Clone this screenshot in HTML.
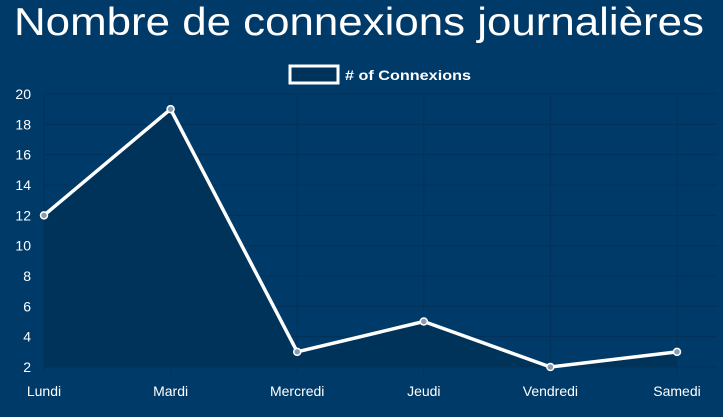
<!DOCTYPE html>
<html><head><meta charset="utf-8"><style>
html,body{margin:0;padding:0;background:#003a68;}
svg{display:block;font-family:"Liberation Sans",sans-serif;}
</style></head><body>
<svg id="chart" width="723" height="417" viewBox="0 0 723 417">
<rect x="0" y="0" width="723" height="417" fill="#003a68"/>
<text x="14" y="35" fill="#fff" font-size="39" textLength="690" lengthAdjust="spacingAndGlyphs">Nombre de connexions journalières</text>
<g>
<rect x="290" y="66" width="48" height="17" fill="#00335c" stroke="#fff" stroke-width="3"/>
<text x="345" y="80" fill="#fff" font-size="14" font-weight="bold" textLength="126" lengthAdjust="spacingAndGlyphs"># of Connexions</text>
</g>
<g id="grid"></g><g id="series"></g><g id="axes"></g>
</svg>
<script>
const categories=["Lundi","Mardi","Mercredi","Jeudi","Vendredi","Samedi"];
const connexions=[12,19,3,5,2,3];
const yTicks=[2,4,6,8,10,12,14,16,18,20];
const X0=44,X1=677,Y0=367,Y1=94,yMin=2,yMax=20;
const ns="http://www.w3.org/2000/svg";
const x=i=>X0+i*(X1-X0)/(categories.length-1);
const y=v=>Y0-(v-yMin)/(yMax-yMin)*(Y0-Y1);
function mk(t,a,p){const e=document.createElementNS(ns,t);for(const k in a)e.setAttribute(k,a[k]);p.appendChild(e);return e;}
const grid=document.getElementById('grid'),axes=document.getElementById('axes'),series=document.getElementById('series');
yTicks.forEach(v=>{
 const l=mk('line',{x1:X0,x2:X1+40,y1:y(v),y2:y(v),stroke:'#00325a','stroke-width':1},grid);
 
 
 const t=mk('text',{x:31,y:y(v)+5,'text-anchor':'end',fill:'#fff','font-size':14},axes);
 t.textContent=v;
 
 
});
categories.forEach((c,i)=>{
 const l=mk('line',{x1:x(i),x2:x(i),y1:Y1,y2:Y0+6,stroke:'#00325a','stroke-width':1},grid);
 
 
 const t=mk('text',{x:x(i),y:396,'text-anchor':'middle',fill:'#fff','font-size':14},axes);
 t.textContent=c;
 
 
});
let pts=connexions.map((v,i)=>x(i)+','+y(v)).join(' ');
const area=mk('polygon',{points:pts+' '+x(categories.length-1)+','+Y0+' '+X0+','+Y0,fill:'#00335a'},series);


grid.parentNode.insertBefore(series,grid);
const line=mk('polyline',{points:pts,fill:'none',stroke:'#fff','stroke-width':3.5,'stroke-linejoin':'round'},document.getElementById('chart'));


connexions.forEach((v,i)=>{
 const c=mk('circle',{cx:x(i),cy:y(v),r:3.5,fill:'#8a9bb0',stroke:'#fff','stroke-width':1.5},document.getElementById('chart'));
 
 
});
</script>
</body></html>
